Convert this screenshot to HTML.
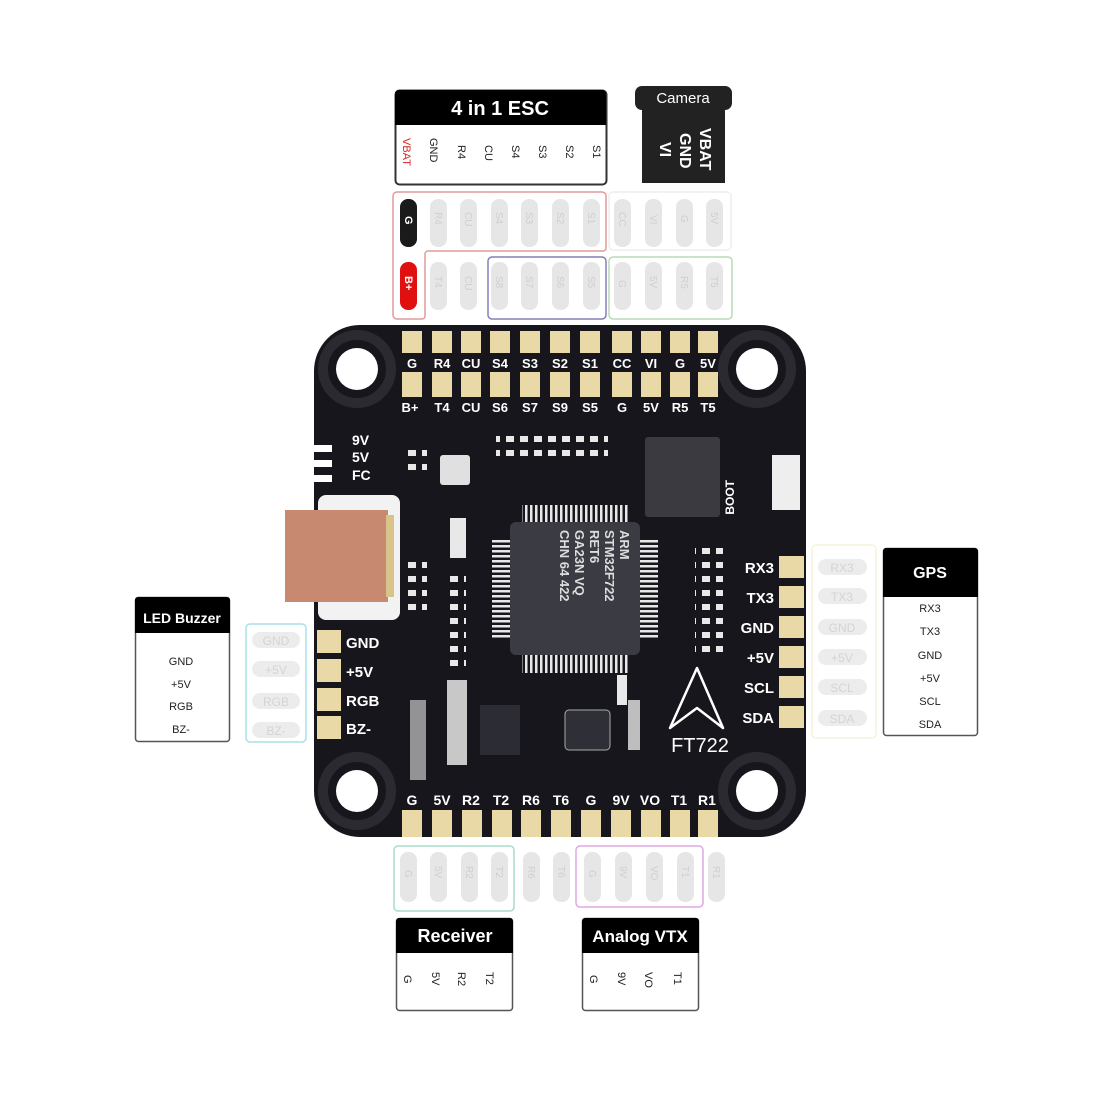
<!DOCTYPE html>
<html><head><meta charset="utf-8"><style>
html,body{margin:0;padding:0;background:#fff;width:1100px;height:1100px;overflow:hidden}
svg{display:block}
text{font-family:"Liberation Sans",sans-serif}
</style></head><body>
<svg width="1100" height="1100" viewBox="0 0 1100 1100" xmlns="http://www.w3.org/2000/svg">
<defs>
<pattern id="pv" width="5" height="10" patternUnits="userSpaceOnUse"><rect width="2.5" height="10" fill="#e8e8e8"/></pattern>
<pattern id="ph" width="10" height="5" patternUnits="userSpaceOnUse"><rect width="10" height="2.5" fill="#e8e8e8"/></pattern>
<pattern id="dots" width="14" height="14" patternUnits="userSpaceOnUse"><rect x="2" y="2" width="8" height="6" fill="#e8e8e8"/></pattern>
</defs>
<!-- ESC box -->
<rect x="395.5" y="90.5" width="211" height="94" rx="4" fill="#fff" stroke="#333" stroke-width="2"/>
<path d="M395 94 a4 4 0 0 1 4 -4 h203 a4 4 0 0 1 4 4 v31 h-211z" fill="#000"/>
<text x="500" y="115" fill="#fff" font-size="20" font-weight="bold" text-anchor="middle">4 in 1 ESC</text>
<g font-size="11" fill="#222">
<text transform="translate(403,138) rotate(90)" fill="#d22">VBAT</text>
<text transform="translate(430,138) rotate(90)">GND</text>
<text transform="translate(458,145) rotate(90)">R4</text>
<text transform="translate(485,145) rotate(90)">CU</text>
<text transform="translate(512,145) rotate(90)">S4</text>
<text transform="translate(539,145) rotate(90)">S3</text>
<text transform="translate(566,145) rotate(90)">S2</text>
<text transform="translate(593,145) rotate(90)">S1</text>
</g>
<!-- Camera -->
<rect x="635" y="86" width="97" height="24" rx="7" fill="#222"/>
<rect x="642" y="106" width="83" height="77" fill="#222"/>
<text x="683" y="103" fill="#fff" font-size="15" text-anchor="middle">Camera</text>
<g font-size="16" fill="#fff" font-weight="bold">
<text transform="translate(700,128) rotate(90)">VBAT</text>
<text transform="translate(680,133) rotate(90)">GND</text>
<text transform="translate(660,142) rotate(90)">VI</text>
</g>
<!-- top ghost pads -->
<g fill="#e6e6e6">
<rect x="430" y="199" width="17" height="48" rx="8"/><rect x="460" y="199" width="17" height="48" rx="8"/><rect x="491" y="199" width="17" height="48" rx="8"/><rect x="521" y="199" width="17" height="48" rx="8"/><rect x="552" y="199" width="17" height="48" rx="8"/><rect x="583" y="199" width="17" height="48" rx="8"/><rect x="614" y="199" width="17" height="48" rx="8"/><rect x="645" y="199" width="17" height="48" rx="8"/><rect x="676" y="199" width="17" height="48" rx="8"/><rect x="706" y="199" width="17" height="48" rx="8"/>
<rect x="430" y="262" width="17" height="48" rx="8"/><rect x="460" y="262" width="17" height="48" rx="8"/><rect x="491" y="262" width="17" height="48" rx="8"/><rect x="521" y="262" width="17" height="48" rx="8"/><rect x="552" y="262" width="17" height="48" rx="8"/><rect x="583" y="262" width="17" height="48" rx="8"/><rect x="614" y="262" width="17" height="48" rx="8"/><rect x="645" y="262" width="17" height="48" rx="8"/><rect x="676" y="262" width="17" height="48" rx="8"/><rect x="706" y="262" width="17" height="48" rx="8"/>
</g>
<rect x="400" y="199" width="17" height="48" rx="8" fill="#1a1a1a"/>
<rect x="400" y="262" width="17" height="48" rx="8" fill="#e01010"/>
<g font-size="10" fill="#cfcfcf">
<text transform="translate(435,212) rotate(90)">R4</text><text transform="translate(465,212) rotate(90)">CU</text><text transform="translate(496,212) rotate(90)">S4</text><text transform="translate(526,212) rotate(90)">S3</text><text transform="translate(557,212) rotate(90)">S2</text><text transform="translate(588,212) rotate(90)">S1</text><text transform="translate(619,212) rotate(90)">CC</text><text transform="translate(650,215) rotate(90)">VI</text><text transform="translate(681,215) rotate(90)">G</text><text transform="translate(711,212) rotate(90)">5V</text>
<text transform="translate(435,276) rotate(90)">T4</text><text transform="translate(465,276) rotate(90)">CU</text><text transform="translate(496,276) rotate(90)">S8</text><text transform="translate(526,276) rotate(90)">S7</text><text transform="translate(557,276) rotate(90)">S6</text><text transform="translate(588,276) rotate(90)">S5</text><text transform="translate(619,280) rotate(90)">G</text><text transform="translate(650,276) rotate(90)">5V</text><text transform="translate(681,276) rotate(90)">R5</text><text transform="translate(711,276) rotate(90)">T5</text>
</g>
<text transform="translate(405,216) rotate(90)" font-size="11" font-weight="bold" fill="#fff">G</text>
<text transform="translate(405,276) rotate(90)" font-size="11" font-weight="bold" fill="#fff">B+</text>
<path d="M397 192 H602 a4 4 0 0 1 4 4 V248 a3 3 0 0 1 -3 3 H428 a3 3 0 0 0 -3 3 V316 a3 3 0 0 1 -3 3 H397 a4 4 0 0 1 -4 -4 V196 a4 4 0 0 1 4 -4z" fill="none" stroke="#e49a9a" stroke-width="1.5"/>
<rect x="488" y="257" width="118" height="62" rx="4" fill="none" stroke="#8080b8" stroke-width="1.5"/>
<rect x="609" y="257" width="123" height="62" rx="4" fill="none" stroke="#b8dcb8" stroke-width="1.5"/>
<rect x="609" y="192" width="122" height="58" rx="4" fill="none" stroke="#eee" stroke-width="1.5"/>
<!-- board -->
<rect x="314" y="325" width="492" height="512" rx="46" fill="#16161c"/>
<g fill="#fff">
<rect x="292" y="445" width="40" height="7"/><rect x="292" y="460" width="40" height="7"/><rect x="292" y="475" width="40" height="7"/>
</g>
<rect x="270" y="420" width="44" height="70" fill="#fff"/>
<g fill="none">
<circle cx="357" cy="369" r="34" stroke="#2a2a30" stroke-width="10"/><circle cx="757" cy="369" r="34" stroke="#2a2a30" stroke-width="10"/>
<circle cx="357" cy="791" r="34" stroke="#2a2a30" stroke-width="10"/><circle cx="757" cy="791" r="34" stroke="#2a2a30" stroke-width="10"/>
</g>
<g fill="#fff"><circle cx="357" cy="369" r="21"/><circle cx="757" cy="369" r="21"/><circle cx="357" cy="791" r="21"/><circle cx="757" cy="791" r="21"/></g>
<!-- top pads -->
<g fill="#e9d9a6">
<rect x="402" y="331" width="20" height="22"/><rect x="432" y="331" width="20" height="22"/><rect x="461" y="331" width="20" height="22"/><rect x="490" y="331" width="20" height="22"/><rect x="520" y="331" width="20" height="22"/><rect x="550" y="331" width="20" height="22"/><rect x="580" y="331" width="20" height="22"/><rect x="612" y="331" width="20" height="22"/><rect x="641" y="331" width="20" height="22"/><rect x="670" y="331" width="20" height="22"/><rect x="698" y="331" width="20" height="22"/>
<rect x="402" y="372" width="20" height="25"/><rect x="432" y="372" width="20" height="25"/><rect x="461" y="372" width="20" height="25"/><rect x="490" y="372" width="20" height="25"/><rect x="520" y="372" width="20" height="25"/><rect x="550" y="372" width="20" height="25"/><rect x="580" y="372" width="20" height="25"/><rect x="612" y="372" width="20" height="25"/><rect x="641" y="372" width="20" height="25"/><rect x="670" y="372" width="20" height="25"/><rect x="698" y="372" width="20" height="25"/>
</g>
<g font-size="13" font-weight="bold" fill="#fff" text-anchor="middle">
<text x="412" y="368">G</text><text x="442" y="368">R4</text><text x="471" y="368">CU</text><text x="500" y="368">S4</text><text x="530" y="368">S3</text><text x="560" y="368">S2</text><text x="590" y="368">S1</text><text x="622" y="368">CC</text><text x="651" y="368">VI</text><text x="680" y="368">G</text><text x="708" y="368">5V</text>
<text x="410" y="412">B+</text><text x="442" y="412">T4</text><text x="471" y="412">CU</text><text x="500" y="412">S6</text><text x="530" y="412">S7</text><text x="560" y="412">S9</text><text x="590" y="412">S5</text><text x="622" y="412">G</text><text x="651" y="412">5V</text><text x="680" y="412">R5</text><text x="708" y="412">T5</text>
</g>
<g font-size="14" font-weight="bold" fill="#fff">
<text x="352" y="445">9V</text><text x="352" y="462">5V</text><text x="352" y="480">FC</text>
</g>
<!-- USB -->
<rect x="318" y="495" width="82" height="125" rx="8" fill="#f2f2f2"/>
<rect x="285" y="510" width="103" height="92" fill="#c78a70"/>
<rect x="386" y="515" width="8" height="82" fill="#d8c48a"/>
<!-- small components -->
<rect x="496" y="428" width="112" height="30" fill="url(#dots)"/>
<rect x="405" y="444" width="22" height="30" fill="url(#dots)"/>
<rect x="405" y="555" width="22" height="60" fill="url(#dots)"/>
<rect x="440" y="455" width="30" height="30" rx="3" fill="#e0e0e0"/>
<rect x="695" y="545" width="28" height="110" fill="url(#dots)"/>
<rect x="645" y="437" width="75" height="80" rx="3" fill="#3a3a40"/>
<rect x="772" y="455" width="28" height="55" fill="#eee"/>
<text transform="translate(734,470) rotate(-90)" font-size="12" font-weight="bold" fill="#fff" text-anchor="end" dx="-10">BOOT</text>
<rect x="492" y="540" width="18" height="100" fill="url(#ph)"/>
<rect x="640" y="540" width="18" height="100" fill="url(#ph)"/>
<rect x="522" y="505" width="108" height="18" fill="url(#pv)"/>
<rect x="522" y="655" width="108" height="18" fill="url(#pv)"/>
<g fill="#e8e8e8">
<rect x="450" y="518" width="16" height="40"/><rect x="446" y="570" width="20" height="100" fill="url(#dots)"/>
<rect x="447" y="680" width="20" height="85" opacity=".85"/>
<rect x="410" y="700" width="16" height="80" opacity=".6"/>
<rect x="617" y="675" width="10" height="30"/>
<rect x="628" y="700" width="12" height="50" opacity=".8"/>
</g>
<rect x="510" y="522" width="130" height="133" rx="6" fill="#3b3b44"/>
<g font-size="13" fill="#ddd" font-weight="bold">
<text transform="translate(620,530) rotate(90)">ARM</text><text transform="translate(605,530) rotate(90)">STM32F722</text>
<text transform="translate(590,530) rotate(90)">RET6</text><text transform="translate(575,530) rotate(90)">GA23N VQ</text>
<text transform="translate(560,530) rotate(90)">CHN 64 422</text>
</g>
<rect x="565" y="710" width="45" height="40" rx="4" fill="#2f2f38" stroke="#aaa" stroke-width="1"/>
<rect x="480" y="705" width="40" height="50" fill="#2c2c34"/>
<path d="M670 728 L697 668 L723 728 L697 708 Z" fill="none" stroke="#fff" stroke-width="2.5" stroke-linejoin="round"/>
<text x="700" y="752" font-size="20" fill="#fff" text-anchor="middle">FT722</text>
<!-- right pads -->
<g fill="#e9d9a6"><rect x="779" y="556" width="25" height="22"/><rect x="779" y="586" width="25" height="22"/><rect x="779" y="616" width="25" height="22"/><rect x="779" y="646" width="25" height="22"/><rect x="779" y="676" width="25" height="22"/><rect x="779" y="706" width="25" height="22"/></g>
<g font-size="15" font-weight="bold" fill="#fff" text-anchor="end">
<text x="774" y="573">RX3</text><text x="774" y="603">TX3</text><text x="774" y="633">GND</text><text x="774" y="663">+5V</text><text x="774" y="693">SCL</text><text x="774" y="723">SDA</text>
</g>
<rect x="812" y="545" width="64" height="193" rx="4" fill="none" stroke="#f6f3d8" stroke-width="1.5"/>
<g fill="#ececec"><rect x="818" y="559" width="49" height="16" rx="8"/><rect x="818" y="588" width="49" height="16" rx="8"/><rect x="818" y="619" width="49" height="16" rx="8"/><rect x="818" y="649" width="49" height="16" rx="8"/><rect x="818" y="679" width="49" height="16" rx="8"/><rect x="818" y="710" width="49" height="16" rx="8"/></g>
<g font-size="12" fill="#d4d4d4" text-anchor="middle"><text x="842" y="572">RX3</text><text x="842" y="601">TX3</text><text x="842" y="632">GND</text><text x="842" y="662">+5V</text><text x="842" y="692">SCL</text><text x="842" y="723">SDA</text></g>
<rect x="883.5" y="548.5" width="94" height="187" rx="3" fill="#fff" stroke="#555" stroke-width="1.5"/>
<path d="M883 551 a3 3 0 0 1 3 -3 h89 a3 3 0 0 1 3 3 v46 h-95z" fill="#000"/>
<text x="930" y="578" font-size="16" font-weight="bold" fill="#fff" text-anchor="middle">GPS</text>
<g font-size="11" fill="#222" text-anchor="middle"><text x="930" y="612">RX3</text><text x="930" y="635">TX3</text><text x="930" y="659">GND</text><text x="930" y="682">+5V</text><text x="930" y="705">SCL</text><text x="930" y="728">SDA</text></g>
<!-- left pads -->
<g fill="#e9d9a6"><rect x="317" y="630" width="24" height="23"/><rect x="317" y="659" width="24" height="23"/><rect x="317" y="688" width="24" height="23"/><rect x="317" y="716" width="24" height="23"/></g>
<g font-size="15" font-weight="bold" fill="#fff"><text x="346" y="648">GND</text><text x="346" y="677">+5V</text><text x="346" y="706">RGB</text><text x="346" y="734">BZ-</text></g>
<rect x="246" y="624" width="60" height="118" rx="4" fill="none" stroke="#a8e0e8" stroke-width="1.5"/>
<g fill="#ececec"><rect x="252" y="632" width="48" height="16" rx="8"/><rect x="252" y="661" width="48" height="16" rx="8"/><rect x="252" y="693" width="48" height="16" rx="8"/><rect x="252" y="722" width="48" height="16" rx="8"/></g>
<g font-size="12" fill="#d4d4d4" text-anchor="middle"><text x="276" y="645">GND</text><text x="276" y="674">+5V</text><text x="276" y="706">RGB</text><text x="276" y="735">BZ-</text></g>
<rect x="135.5" y="597.5" width="94" height="144" rx="3" fill="#fff" stroke="#555" stroke-width="1.5"/>
<path d="M135 600 a3 3 0 0 1 3 -3 h89 a3 3 0 0 1 3 3 v33 h-95z" fill="#000"/>
<text x="182" y="623" font-size="14" font-weight="bold" fill="#fff" text-anchor="middle">LED  Buzzer</text>
<g font-size="11" fill="#222" text-anchor="middle"><text x="181" y="665">GND</text><text x="181" y="688">+5V</text><text x="181" y="710">RGB</text><text x="181" y="733">BZ-</text></g>
<!-- bottom pads -->
<g fill="#e9d9a6">
<rect x="402" y="810" width="20" height="27"/><rect x="432" y="810" width="20" height="27"/><rect x="462" y="810" width="20" height="27"/><rect x="492" y="810" width="20" height="27"/><rect x="521" y="810" width="20" height="27"/><rect x="551" y="810" width="20" height="27"/><rect x="581" y="810" width="20" height="27"/><rect x="611" y="810" width="20" height="27"/><rect x="641" y="810" width="20" height="27"/><rect x="670" y="810" width="20" height="27"/><rect x="698" y="810" width="20" height="27"/>
</g>
<g font-size="14" font-weight="bold" fill="#fff" text-anchor="middle">
<text x="412" y="805">G</text><text x="442" y="805">5V</text><text x="471" y="805">R2</text><text x="501" y="805">T2</text><text x="531" y="805">R6</text><text x="561" y="805">T6</text><text x="591" y="805">G</text><text x="621" y="805">9V</text><text x="650" y="805">VO</text><text x="679" y="805">T1</text><text x="707" y="805">R1</text>
</g>
<g fill="#e6e6e6">
<rect x="400" y="852" width="17" height="50" rx="8"/><rect x="430" y="852" width="17" height="50" rx="8"/><rect x="461" y="852" width="17" height="50" rx="8"/><rect x="491" y="852" width="17" height="50" rx="8"/><rect x="523" y="852" width="17" height="50" rx="8"/><rect x="553" y="852" width="17" height="50" rx="8"/><rect x="584" y="852" width="17" height="50" rx="8"/><rect x="615" y="852" width="17" height="50" rx="8"/><rect x="646" y="852" width="17" height="50" rx="8"/><rect x="677" y="852" width="17" height="50" rx="8"/><rect x="708" y="852" width="17" height="50" rx="8"/>
</g>
<g font-size="10" fill="#cfcfcf">
<text transform="translate(405,870) rotate(90)">G</text><text transform="translate(435,866) rotate(90)">5V</text><text transform="translate(466,866) rotate(90)">R2</text><text transform="translate(496,866) rotate(90)">T2</text><text transform="translate(528,866) rotate(90)">R6</text><text transform="translate(558,866) rotate(90)">T6</text><text transform="translate(589,870) rotate(90)">G</text><text transform="translate(620,866) rotate(90)">9V</text><text transform="translate(651,866) rotate(90)">VO</text><text transform="translate(682,866) rotate(90)">T1</text><text transform="translate(713,866) rotate(90)">R1</text>
</g>
<rect x="394" y="846" width="120" height="65" rx="4" fill="none" stroke="#a8dcc8" stroke-width="1.5"/>
<rect x="576" y="846" width="127" height="61" rx="4" fill="none" stroke="#e0a8e0" stroke-width="1.5"/>
<rect x="396.5" y="918.5" width="116" height="92" rx="3" fill="#fff" stroke="#555" stroke-width="1.5"/>
<path d="M396 921 a3 3 0 0 1 3 -3 h111 a3 3 0 0 1 3 3 v32 h-117z" fill="#000"/>
<text x="455" y="942" font-size="18" font-weight="bold" fill="#fff" text-anchor="middle">Receiver</text>
<rect x="582.5" y="918.5" width="116" height="92" rx="3" fill="#fff" stroke="#555" stroke-width="1.5"/>
<path d="M582 921 a3 3 0 0 1 3 -3 h111 a3 3 0 0 1 3 3 v32 h-117z" fill="#000"/>
<text x="640" y="942" font-size="17" font-weight="bold" fill="#fff" text-anchor="middle">Analog VTX</text>
<g font-size="11" fill="#222">
<text transform="translate(404,975) rotate(90)">G</text><text transform="translate(432,972) rotate(90)">5V</text><text transform="translate(458,972) rotate(90)">R2</text><text transform="translate(486,972) rotate(90)">T2</text>
<text transform="translate(590,975) rotate(90)">G</text><text transform="translate(618,972) rotate(90)">9V</text><text transform="translate(645,972) rotate(90)">VO</text><text transform="translate(674,972) rotate(90)">T1</text>
</g>
</svg>
</body></html>
